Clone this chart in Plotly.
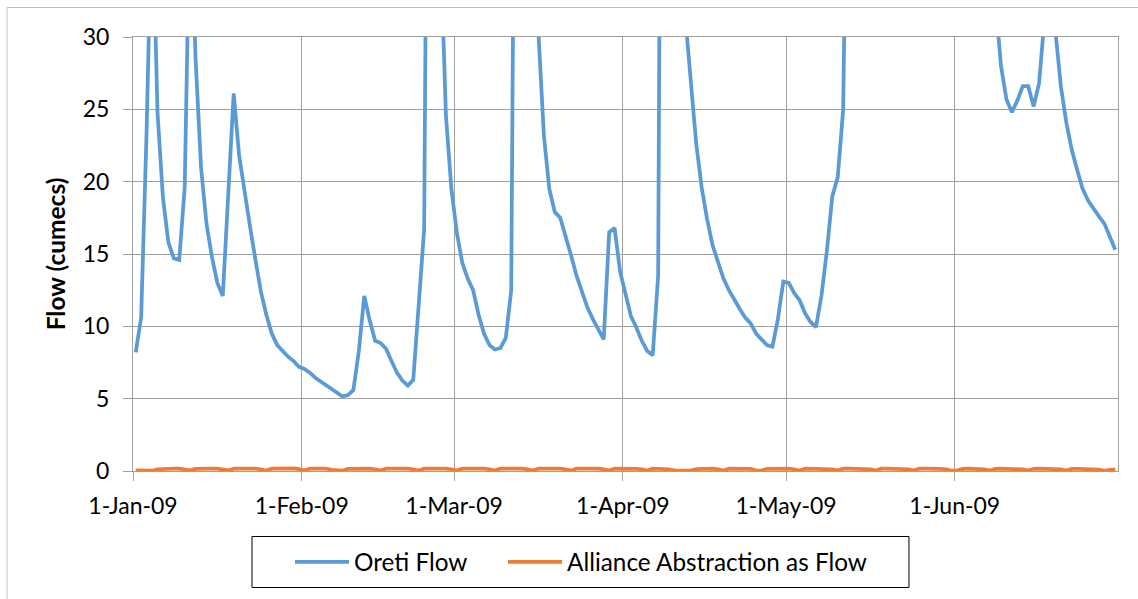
import pandas as pd
import plotly.graph_objects as go

# Daily series, 1 Jan 2009 - 30 Jun 2009
dates = pd.date_range("2009-01-01", "2009-06-30", freq="D")

oreti_flow = [
    8.2, 10.6, 23.5, 40.0, 24.8, 18.9, 15.8, 14.7, 14.6, 19.6,
    40.0, 28.5, 21.0, 17.1, 14.8, 13.0, 12.1, 19.0, 26.1, 21.8,
    19.2, 16.9, 14.6, 12.4, 10.8, 9.5, 8.7, 8.3, 7.9, 7.6,
    7.2, 7.05, 6.8, 6.45, 6.2, 5.9, 5.65, 5.4, 5.15, 5.25,
    5.6, 8.3, 12.1, 10.4, 9.0, 8.85, 8.45, 7.6, 6.8, 6.25,
    5.9, 6.3, 11.1, 16.7, 72.0, 55.0, 36.4, 24.6, 19.5, 16.5,
    14.4, 13.3, 12.5, 10.8, 9.5, 8.7, 8.4, 8.5, 9.2, 12.5,
    68.0, 60.0, 45.0, 36.0, 30.3, 23.2, 19.5, 17.9, 17.5, 16.3,
    14.9, 13.5, 12.4, 11.3, 10.5, 9.8, 9.1, 16.5, 16.8, 13.8,
    12.2, 10.7, 9.9, 9.0, 8.3, 8.0, 13.5, 90.0, 75.0, 55.0,
    40.0, 31.3, 27.0, 22.6, 19.6, 17.4, 15.6, 14.4, 13.3, 12.5,
    11.8, 11.2, 10.6, 10.2, 9.5, 9.1, 8.7, 8.6, 10.5, 13.1,
    13.0, 12.3, 11.8, 10.9, 10.3, 9.95, 12.1, 15.2, 19.0, 20.3,
    25.0, 53.0, 78.0, 95.0, 70.0, 58.0, 49.0, 44.0, 40.0, 37.0,
    35.0, 33.5, 34.0, 48.0, 62.0, 55.0, 47.0, 42.0, 39.0, 36.5,
    35.0, 41.0, 57.0, 52.0, 45.0, 40.0, 37.0, 34.5, 32.4, 28.0,
    25.7, 24.8, 25.6, 26.6, 26.6, 25.2, 26.8, 31.3, 33.0, 30.4,
    26.6, 24.1, 22.2, 20.8, 19.5, 18.7, 18.1, 17.6, 17.1, 16.2,
    15.3,
]

abstraction_flow = [
    0.05, 0.03, 0.02, 0.02,
    0.12, 0.15, 0.16, 0.17, 0.16, 0.13, 0.04,
    0.15, 0.17, 0.16, 0.17, 0.16, 0.12, 0.04,
    0.16, 0.17, 0.16, 0.16, 0.17, 0.12, 0.03,
    0.16, 0.18, 0.19, 0.20, 0.18, 0.13, 0.03,
    0.16, 0.17, 0.17, 0.16, 0.08, 0.06, 0.02,
    0.15, 0.17, 0.17, 0.16, 0.17, 0.12, 0.03,
    0.16, 0.17, 0.16, 0.17, 0.16, 0.12, 0.03,
    0.16, 0.17, 0.17, 0.16, 0.17, 0.12, 0.03,
    0.16, 0.17, 0.16, 0.17, 0.16, 0.12, 0.03,
    0.16, 0.17, 0.17, 0.16, 0.16, 0.12, 0.03,
    0.16, 0.17, 0.16, 0.17, 0.16, 0.12, 0.03,
    0.16, 0.17, 0.17, 0.16, 0.16, 0.12, 0.03,
    0.16, 0.17, 0.16, 0.17, 0.15, 0.12, 0.03,
    0.16, 0.16, 0.15, 0.12, 0.04, 0.03, 0.02,
    0.03, 0.13, 0.16, 0.16, 0.16, 0.12, 0.03,
    0.16, 0.17, 0.16, 0.16, 0.15, 0.04, 0.03,
    0.15, 0.16, 0.17, 0.16, 0.16, 0.12, 0.03,
    0.16, 0.16, 0.17, 0.16, 0.16, 0.12, 0.03,
    0.16, 0.17, 0.16, 0.16, 0.17, 0.12, 0.03,
    0.16, 0.17, 0.17, 0.16, 0.16, 0.12, 0.03,
    0.16, 0.16, 0.17, 0.16, 0.15, 0.11, 0.02,
    0.04, 0.14, 0.16, 0.16, 0.15, 0.11, 0.03,
    0.15, 0.16, 0.16, 0.15, 0.15, 0.11, 0.03,
    0.15, 0.16, 0.15, 0.15, 0.14, 0.11, 0.03,
    0.14, 0.15, 0.15, 0.14, 0.14, 0.10, 0.02,
    0.10, 0.12,
]

month_ticks = ["2009-01-01", "2009-02-01", "2009-03-01",
               "2009-04-01", "2009-05-01", "2009-06-01"]
month_labels = ["1-Jan-09", "1-Feb-09", "1-Mar-09",
                "1-Apr-09", "1-May-09", "1-Jun-09"]
y_ticks = [0, 5, 10, 15, 20, 25, 30]

BLUE = "#5B9BD5"
ORANGE = "#ED7D31"
GRID = "#A0A0A0"
FONT = "Lato"

fig = go.Figure()
# each daily value sits in the middle of its day, like an Excel date axis
fig.add_trace(go.Scatter(
    x=dates, y=oreti_flow, name="Oreti Flow", mode="lines",
    line=dict(color=BLUE, width=3.75),
    xperiod=86400000, xperiodalignment="middle",
    legend="legend",
))
fig.add_trace(go.Scatter(
    x=dates, y=abstraction_flow, name="Alliance Abstraction as Flow", mode="lines",
    line=dict(color=ORANGE, width=3.75),
    xperiod=86400000, xperiodalignment="middle",
    legend="legend2",
))

legend_style = dict(
    orientation="h", xanchor="left", y=-0.2097, yanchor="middle",
    borderwidth=0, bgcolor="rgba(0,0,0,0)",
    font=dict(family=FONT, size=24.3, color="black"),
    itemwidth=54,
)

fig.update_layout(
    width=1138, height=599,
    margin=dict(l=133, r=20, t=37, b=128),
    paper_bgcolor="white", plot_bgcolor="white",
    font=dict(family=FONT, size=23, color="black"),
    showlegend=True,
    legend=dict(legend_style, x=0.1594),
    legend2=dict(legend_style, x=0.3757),
    xaxis=dict(
        type="date", range=["2009-01-01", "2009-07-01"],
        tickvals=month_ticks, ticktext=month_labels,
        showgrid=True, gridcolor=GRID, gridwidth=1,
        showline=True, linecolor=GRID, linewidth=1, mirror=True,
        ticks="outside", ticklen=9, tickcolor=GRID, tickwidth=1,
        ticklabelstandoff=5,
        zeroline=False,
    ),
    yaxis=dict(
        range=[0, 30], tickvals=y_ticks,
        showgrid=True, gridcolor=GRID, gridwidth=1,
        showline=True, linecolor=GRID, linewidth=1, mirror=True,
        ticks="outside", ticklen=9, tickcolor=GRID, tickwidth=1,
        ticklabelstandoff=9,
        zeroline=False,
        title=dict(text="<b>Flow (cumecs)</b>", standoff=10,
                   font=dict(family=FONT, size=24.5)),
    ),
    shapes=[
        # outer chart frame (left and top edges)
        dict(type="line", xref="paper", yref="paper",
             x0=-0.1279, x1=-0.1279, y0=1.068, y1=-0.32,
             line=dict(color="#BFBFBF", width=1)),
        dict(type="line", xref="paper", yref="paper",
             x0=-0.1279, x1=1.03, y0=1.068, y1=1.068,
             line=dict(color="#BFBFBF", width=1)),
        # legend frame
        dict(type="rect", xref="paper", yref="paper",
             x0=0.1208, x1=0.7878, y0=-0.1509, y1=-0.2684,
             line=dict(color="black", width=1)),
    ],
)

fig.write_html("out.html")
